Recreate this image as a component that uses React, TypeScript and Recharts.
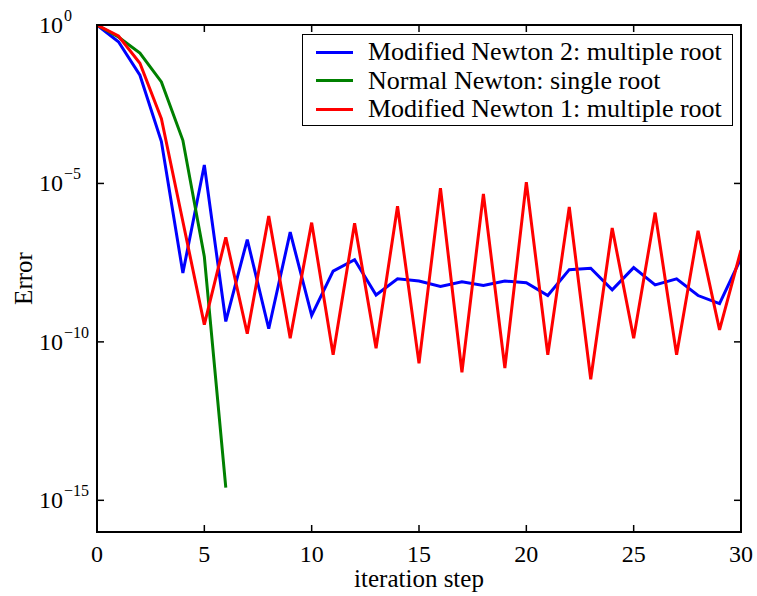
import React from "react";
import { LineChart, Line, XAxis, YAxis, ReferenceLine } from "recharts";

// iteration steps
const steps = [0, 1, 2, 3, 4, 5, 6, 7, 8, 9, 10, 11, 12, 13, 14, 15, 16, 17, 18, 19, 20, 21, 22, 23, 24, 25, 26, 27, 28, 29, 30];

// error per step
const modNewton2 = [
  1, 2.95e-1, 2.6e-2, 2.1e-4, 1.5e-8, 3.8e-5, 4.4e-10, 1.7e-7, 2.6e-10, 2.9e-7, 6.8e-10,
  1.7e-8, 3.9e-8, 3.0e-9, 9.8e-9, 8.3e-9, 5.6e-9, 7.9e-9, 6.0e-9, 8.3e-9, 7.4e-9,
  2.9e-9, 1.9e-8, 2.1e-8, 4.4e-9, 2.2e-8, 6.3e-9, 9.8e-9, 2.9e-9, 1.6e-9, 4.4e-8,
];
const normalNewton = [1, 4.2e-1, 1.3e-1, 1.6e-2, 2.3e-4, 4.9e-8, 2.5e-15];
const modNewton1 = [
  1, 4.5e-1, 6.2e-2, 1.1e-3, 6.3e-7, 3.5e-10, 2.0e-7, 1.8e-10, 9.3e-7, 1.3e-10, 5.8e-7,
  3.9e-11, 5.5e-7, 6.3e-11, 1.9e-6, 2.1e-11, 7.1e-6, 1.1e-11, 4.7e-6, 1.5e-11, 1.1e-5,
  3.9e-11, 1.8e-6, 6.6e-12, 3.9e-7, 1.3e-10, 1.2e-6, 3.9e-11, 3.2e-7, 2.4e-10, 7.9e-8,
];

const xTicks = [0, 5, 10, 15, 20, 25, 30];
const yTicks = [1e-15, 1e-10, 1e-5, 1];

const series = [
  { key: "mn2", name: "Modified Newton 2: multiple root", color: "#0000ff" },
  { key: "nn", name: "Normal Newton: single root", color: "#008000" },
  { key: "mn1", name: "Modified Newton 1: multiple root", color: "#ff0000" },
];

const data = steps.map((s, i) => ({
  step: s,
  mn2: modNewton2[i],
  nn: i < normalNewton.length ? normalNewton[i] : null,
  mn1: modNewton1[i],
}));

const FONT = '"Liberation Serif", "Times New Roman", serif';
const TICK = 7;

// plot box (chart margins + axis sizes)
const MARGIN = { top: 25, right: 16, bottom: 0, left: 0 };
const Y_AXIS_W = 97;
const X_AXIS_H = 64;
const CHART_W = 757;
const CHART_H = 596;
const PLOT_L = MARGIN.left + Y_AXIS_W;
const PLOT_T = MARGIN.top;
const PLOT_W = CHART_W - MARGIN.right - PLOT_L;
const PLOT_H = CHART_H - MARGIN.bottom - X_AXIS_H - PLOT_T;

function BottomTick(props: any) {
  const { x, y, payload } = props;
  return (
    <g>
      <line x1={x} y1={y} x2={x} y2={y - TICK} stroke="#000" strokeWidth={1.5} />
      <text x={x} y={y + 30} textAnchor="middle" fontFamily={FONT} fontSize={24} fill="#000">
        {payload.value}
      </text>
    </g>
  );
}

function LeftTick(props: any) {
  const { x, y, payload } = props;
  const exp = Math.round(Math.log10(payload.value));
  const expStr = exp < 0 ? "\u2212" + String(-exp) : String(exp);
  return (
    <g>
      <line x1={x} y1={y} x2={x + TICK} y2={y} stroke="#000" strokeWidth={1.5} />
      <text x={x - 34} y={y + 8} textAnchor="end" fontFamily={FONT} fontSize={24} fill="#000">
        10
      </text>
      <text x={x - 33} y={y - 4} textAnchor="start" fontFamily={FONT} fontSize={16} fill="#000">
        {expStr}
      </text>
    </g>
  );
}

// short inward tick at the right end of a horizontal reference line
function RightTickShape(p: any) {
  const right = Math.max(p.x1, p.x2);
  return <line x1={right} y1={p.y1} x2={right - TICK} y2={p.y1} stroke="#000" strokeWidth={1.5} />;
}

const axisLine = { stroke: "#000", strokeWidth: 2 };

export default function App() {
  return (
    <div style={{ position: "absolute", left: 0, top: 0, width: CHART_W, height: CHART_H, background: "#fff" }}>
      <LineChart width={CHART_W} height={CHART_H} data={data} margin={MARGIN}>
        <XAxis
          dataKey="step"
          type="number"
          domain={[0, 30]}
          allowDataOverflow
          ticks={xTicks}
          height={X_AXIS_H}
          tickSize={0}
          tickMargin={0}
          tickLine={false}
          axisLine={axisLine}
          tick={<BottomTick />}
          interval={0}
          label={(p: any) => {
            const vb = p.viewBox;
            return (
              <text x={vb.x + vb.width / 2} y={vb.y + 55} textAnchor="middle" fontFamily={FONT} fontSize={25} fill="#000">
                iteration step
              </text>
            );
          }}
        />
        <YAxis
          scale="log"
          type="number"
          domain={[1e-16, 1]}
          allowDataOverflow
          ticks={yTicks}
          width={Y_AXIS_W}
          tickSize={0}
          tickMargin={0}
          tickLine={false}
          axisLine={axisLine}
          tick={<LeftTick />}
          interval={0}
          label={(p: any) => {
            const vb = p.viewBox;
            const cx = 32;
            const cy = vb.y + vb.height / 2;
            return (
              <text x={cx} y={cy} textAnchor="middle" fontFamily={FONT} fontSize={25} fill="#000" transform={`rotate(-90, ${cx}, ${cy})`}>
                Error
              </text>
            );
          }}
        />
        {yTicks.map((t) => (
          <ReferenceLine key={"ry" + t} y={t} ifOverflow="visible" shape={RightTickShape} />
        ))}
        {series.map((s) => (
          <Line
            key={s.key}
            dataKey={s.key}
            name={s.name}
            type="linear"
            stroke={s.color}
            strokeWidth={3}
            dot={false}
            activeDot={false}
            isAnimationActive={false}
          />
        ))}
      </LineChart>

      {/* plot frame drawn on top of the chart, with inward ticks along the top */}
      <svg
        width={CHART_W}
        height={CHART_H}
        style={{ position: "absolute", left: 0, top: 0, zIndex: 10, pointerEvents: "none" }}
      >
        <rect x={PLOT_L} y={PLOT_T} width={PLOT_W} height={PLOT_H} fill="none" stroke="#000" strokeWidth={2} />
        {xTicks.map((t) => {
          const x = PLOT_L + (t / 30) * PLOT_W;
          return <line key={"tt" + t} x1={x} y1={PLOT_T} x2={x} y2={PLOT_T + TICK} stroke="#000" strokeWidth={1.5} />;
        })}
      </svg>

      <div
        style={{
          position: "absolute",
          left: 302,
          top: 34,
          width: 431,
          height: 92,
          boxSizing: "border-box",
          border: "1.5px solid #000",
          background: "#fff",
          fontFamily: FONT,
          fontSize: 26,
          paddingTop: 3,
          zIndex: 20,
        }}
      >
        {series.map((s) => (
          <div key={s.key} style={{ display: "flex", alignItems: "center", height: 28.5 }}>
            <div style={{ marginLeft: 13, width: 37, height: 3, background: s.color }} />
            <span style={{ marginLeft: 15, lineHeight: "28px", whiteSpace: "nowrap" }}>{s.name}</span>
          </div>
        ))}
      </div>
    </div>
  );
}
